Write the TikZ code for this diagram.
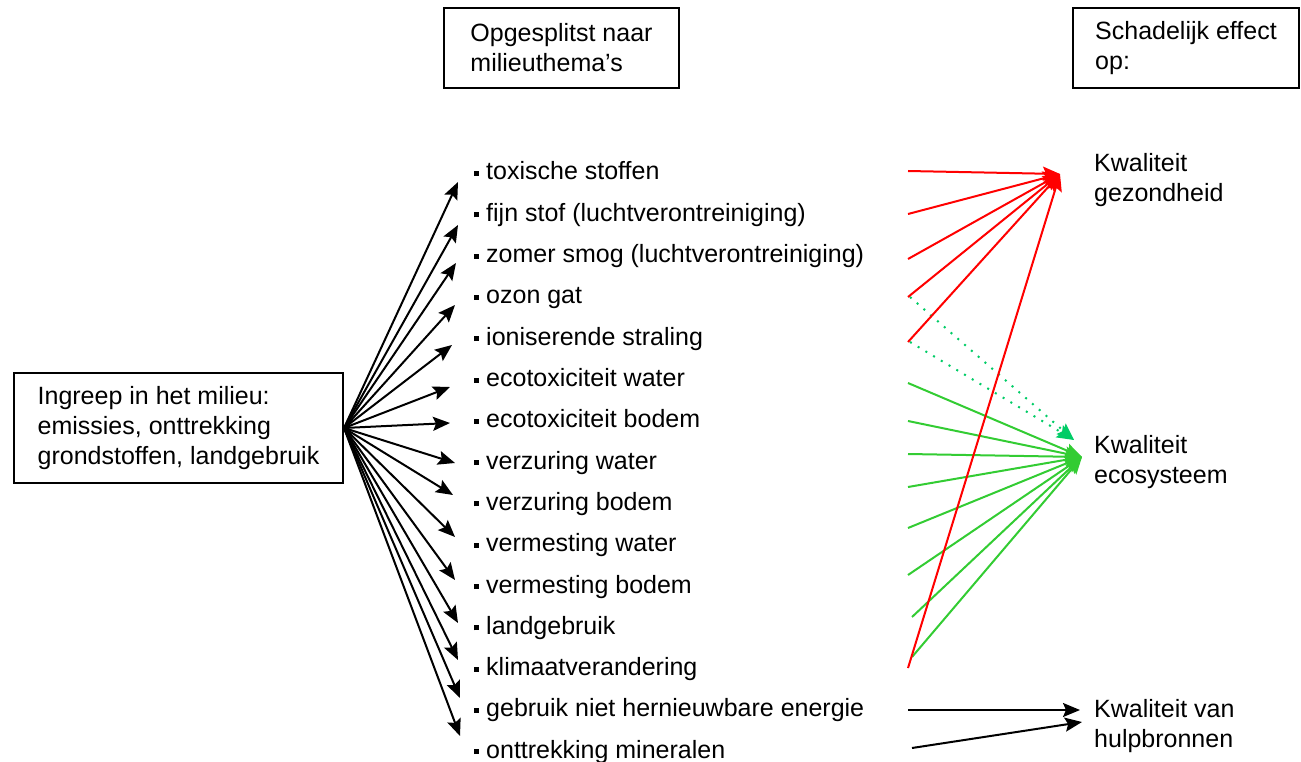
\documentclass[tikz,border=0pt]{standalone}
\usepackage{fontspec}
\setmainfont{Liberation Sans}
\usetikzlibrary{arrows.meta}
\definecolor{myred}{RGB}{255,0,0}
\definecolor{mygreen}{RGB}{51,204,51}
\definecolor{myteal}{RGB}{0,204,102}
\begin{document}
\begin{tikzpicture}[x=1pt,y=-1pt,
  every node/.style={font=\fontsize{25}{30}\selectfont},
  box/.style={draw,line width=2pt,align=left,inner sep=0pt},
  item/.style={anchor=base west,inner sep=0pt},
  lbl/.style={anchor=west,align=left,inner sep=0pt},
  arr/.style={line width=2pt,-{Stealth[length=17pt,width=14pt,inset=3pt]}},
  dotarr/.style={line width=2pt,dash pattern=on 2pt off 7pt,-{Stealth[length=17pt,width=14pt,inset=3pt]}}]
\useasboundingbox (0,0) rectangle (1301,762);

% boxes
\node[box,minimum width=329pt,minimum height=110pt] (src) at (178.5,428) {Ingreep in het milieu:\\emissies, onttrekking\\grondstoffen, landgebruik};
\node[box,minimum width=235pt,minimum height=80pt] (themes) at (561.5,48) {Opgesplitst naar\\milieuthema\symbol{39}s};
\node[box,minimum width=226pt,minimum height=80pt] (effect) at (1186,48) {Schadelijk effect\\op:};

% items
\foreach \t [count=\i] in {toxische stoffen,fijn stof (luchtverontreiniging),zomer smog (luchtverontreiniging),ozon gat,ioniserende straling,ecotoxiciteit water,ecotoxiciteit bodem,verzuring water,verzuring bodem,vermesting water,vermesting bodem,landgebruik,klimaatverandering,gebruik niet hernieuwbare energie,onttrekking mineralen}
  \node[item] (i\i) at (474,{180+(\i-1)*41.3}) {\rule[4pt]{5pt}{5pt}\hspace{7pt}\t};

% result labels
\node[lbl] (gez) at (1094,180) {Kwaliteit\\gezondheid};
\node[lbl] (eco) at (1094,462) {Kwaliteit\\ecosysteem};
\node[lbl] (hulp) at (1094,726) {Kwaliteit van\\hulpbronnen};

% black arrows to items
\foreach \i/\x/\y in {1/458/182,2/458/225,3/456/263,4/455/305,5/452/345,6/450/387,7/450/423,8/455/463,9/453/495,10/455/537,11/455/580,12/458/623,13/458/660,14/460/698,15/460/736}{
  \coordinate (t\i) at (\x,\y);
  \draw[arr] (src.east) -- (t\i);
}

% target points
\coordinate (gT) at (1060,174);
\coordinate (eT) at (1082,457);
\coordinate (dT) at (1074,440);
\coordinate (h1) at (1080,710);
\coordinate (h2) at (1082,722);

% teal dotted (ozon gat, ioniserende straling -> ecosysteem)
\coordinate (d4) at (910,297);
\coordinate (d5) at (910,342);
\draw[dotarr,myteal] (d4) -- (dT);
\draw[dotarr,myteal] (d5) -- (dT);

% green
\foreach \i/\x/\y in {6/908/383,7/908/421,8/908/454,9/908/487,10/908/528,11/908/575,12/912/617,13/912/657}{
  \coordinate (g\i) at (\x,\y);
  \draw[arr,mygreen] (g\i) -- (eT);
}

% red
\foreach \i/\y in {1/171,2/214,3/259,4/297,5/342,13/668}{
  \coordinate (r\i) at (908,\y);
  \draw[arr,myred] (r\i) -- (gT);
}

% black to hulpbronnen
\coordinate (b14) at (908,710);
\coordinate (b15) at (912,748);
\draw[arr] (b14) -- (h1);
\draw[arr] (b15) -- (h2);
\end{tikzpicture}
\end{document}
